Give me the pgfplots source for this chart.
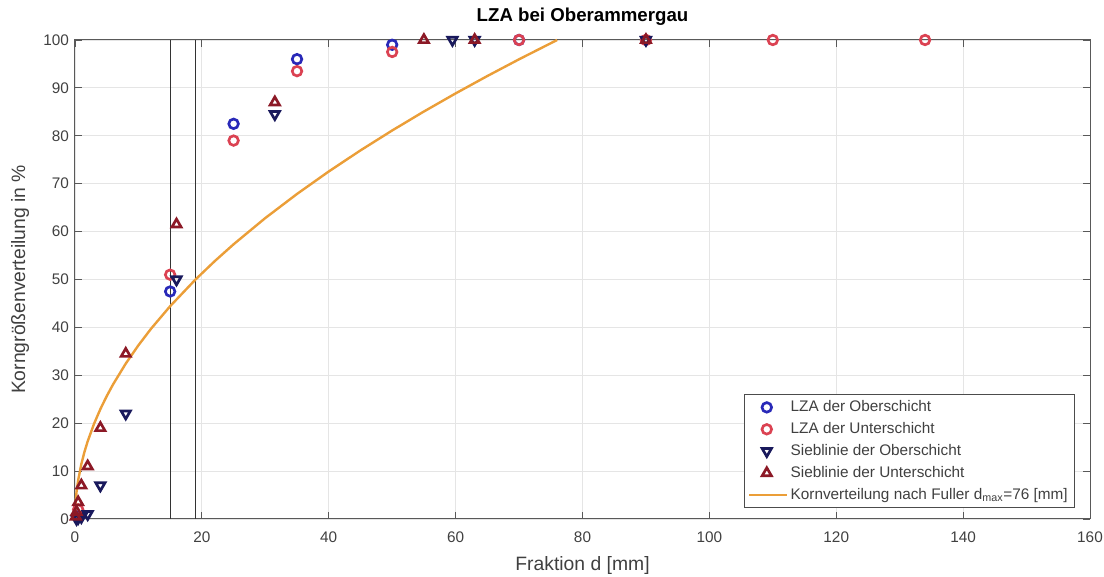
\documentclass[border=0pt]{standalone}
\usepackage{fontspec}
\setmainfont{Liberation Sans}
\usepackage{pgfplots}
\pgfplotsset{compat=1.18}
\definecolor{cBlue}{rgb}{0.16,0.16,0.72}
\definecolor{cRed}{rgb}{0.86,0.26,0.32}
\definecolor{cNavy}{rgb}{0.10,0.10,0.36}
\definecolor{cMaroon}{rgb}{0.55,0.10,0.15}
\definecolor{cOrange}{rgb}{0.92,0.62,0.22}
\definecolor{cText}{rgb}{0.25,0.25,0.25}
\begin{document}
\begin{tikzpicture}
\begin{axis}[
  at={(0,0)}, anchor=south west,
  scale only axis, width=761.25pt, height=359.25pt,
  xmin=0, xmax=160, ymin=0, ymax=100,
  xtick={0,20,...,160}, ytick={0,10,...,100},
  grid=major, major grid style={black!10, line width=0.6pt},
  axis line style={black!65, line width=0.75pt},
  tick align=inside, major tick length=5pt, tick style={black!65, line width=0.6pt},
  /pgf/number format/assume math mode=true,
  tick label style={font=\fontsize{11.5}{13}\selectfont, text=cText},
  xticklabel style={anchor=base, yshift=-18pt},
  yticklabel style={anchor=east, xshift=-1pt},
  title={LZA bei Oberammergau},
  title style={at={(axis description cs:0.5,1)}, anchor=base, yshift=8pt, font=\fontsize{14}{16}\selectfont\bfseries},
  xlabel={Fraktion d [mm]},
  xlabel style={at={(axis description cs:0.5,0)}, anchor=base, yshift=-39pt, font=\fontsize{14.5}{16}\selectfont, text=cText},
  ylabel={Korngrößenverteilung in \%},
  ylabel style={at={(axis description cs:-0.054,0.5)}, anchor=center, font=\fontsize{14.5}{16}\selectfont, text=cText},
  legend style={at={(0.985,0.023)}, anchor=south east, font=\fontsize{11.5}{13}\selectfont, text=cText,
    draw=black!70, line width=0.6pt, inner xsep=3pt, inner ysep=2.5pt, row sep=2.6pt},
  legend cell align=left,
  legend image code/.code={\draw[mark repeat=2,mark phase=2,#1] plot coordinates {(0pt,0pt) (13pt,0pt) (28pt,0pt)};},
  clip=false,
]
% vertical marker lines
\addplot[forget plot, black!80, line width=0.9pt] coordinates {(15,0) (15,100)};
\addplot[forget plot, black!80, line width=0.9pt] coordinates {(19,0) (19,100)};

% LZA der Oberschicht
\addplot[only marks, mark=o, mark size=3.6pt, cBlue, line width=2pt] coordinates {
  (0.5,0.5) (15,47.5) (25,82.5) (35,96) (50,99) (70,100)
};
\addlegendentry{LZA der Oberschicht}
% LZA der Unterschicht
\addplot[only marks, mark=o, mark size=3.6pt, cRed, line width=2pt] coordinates {
  (0.5,2) (15,51) (25,79) (35,93.5) (50,97.5) (70,100) (90,100) (110,100) (134,100)
};
\addlegendentry{LZA der Unterschicht}
% Sieblinie der Oberschicht
\addplot[only marks, mark=triangle, mark size=4pt, mark options={rotate=180}, cNavy, line width=2pt] coordinates {
  (0.25,0) (0.5,0.2) (1,0.4) (2,1) (4,7) (8,22) (16,50) (31.5,84.5) (59.5,100) (63,100) (90,100)
};
\addlegendentry{Sieblinie der Oberschicht}
% Sieblinie der Unterschicht
\addplot[only marks, mark=triangle, mark size=4pt, cMaroon, line width=2pt] coordinates {
  (0.125,0.5) (0.25,1.5) (0.5,3.5) (1,7) (2,11) (4,19) (8,34.5) (16,61.5) (31.5,87) (55,100) (63,100) (90,100)
};
\addlegendentry{Sieblinie der Unterschicht}
% Fuller curve
\addplot[cOrange, line width=1.8pt] coordinates {
  (0,0) (0.02,1.62) (0.05,2.56) (0.1,3.63) (0.25,5.74) (0.5,8.11) (1,11.47) (1.5,14.05)
  (2,16.22) (3,19.87) (4,22.94) (5,25.65) (6,28.10) (8,32.44) (10,36.27) (12,39.74)
  (15,44.43) (19,50.00) (22,53.80) (25,57.35) (30,62.83) (35,67.86) (40,72.55)
  (45,76.95) (50,81.11) (55,85.07) (60,88.85) (65,92.48) (70,95.97) (76,100)
};
\addlegendentry{Kornverteilung nach Fuller d$_{\mathrm{max}}$=76 [mm]}
\end{axis}
\pgfresetboundingbox
\useasboundingbox (-56.25pt,-43.5pt) rectangle (771.75pt,389.25pt);
\end{tikzpicture}
\end{document}
